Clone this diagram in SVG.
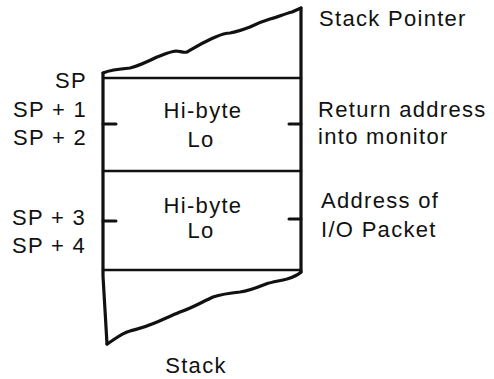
<svg xmlns="http://www.w3.org/2000/svg" width="494" height="379" viewBox="0 0 494 379">
  <style>
    .ln { fill: none; stroke: #111; stroke-linecap: round; stroke-linejoin: round; }
    .edge { stroke-width: 3.2; }
    .rule { stroke-width: 2.6; }
    .tick { stroke-width: 3; }
    .t { font-family: "Liberation Sans", Arial, Helvetica, sans-serif; font-size: 22px; fill: #111; letter-spacing: 1.3px; }
    .r { text-anchor: end; }
    .m { text-anchor: middle; }
  </style>
  <rect width="494" height="379" fill="#fff"/>

  <!-- stack column: torn top and bottom edges, two side walls -->
  <g id="stack-column">
    <path class="ln edge" d="M103,73 C110,70 118,69 130,68 C138,66 145,63 157,57 C163,55 168,52 176,51 C180,51 183,53 187,52 C194,48 200,44 213,38 C220,35 224,33 230,33 C236,32 242,30 250,27 C256,24 260,22 270,19 C278,17 284,14 292,12 L301,8"/>
    <path class="ln edge" d="M103,73 L103,276 L107,344"/>
    <path class="ln edge" d="M301,8 L301,272"/>
    <path class="ln edge" d="M107,344 C114,340 120,334 130,331 C137,329 143,328 152,324 C160,321 168,317 180,312 C192,308 202,302 213,297 C222,294 230,293 240,292 C248,291 256,288 266,284 C272,282 279,281 287,279 C294,277 298,275 301,272"/>
  </g>

  <!-- slot boundaries -->
  <g id="slot-rules">
    <line class="ln rule" x1="103" y1="78" x2="301" y2="78"/>
    <line class="ln rule" x1="103" y1="171" x2="301" y2="171"/>
    <line class="ln rule" x1="103" y1="270" x2="301" y2="270"/>
  </g>

  <!-- byte boundary ticks -->
  <g id="ticks">
    <line class="ln tick" x1="103" y1="124" x2="116" y2="124"/>
    <line class="ln tick" x1="289" y1="124" x2="301" y2="124"/>
    <line class="ln tick" x1="103" y1="221" x2="116" y2="221"/>
    <line class="ln tick" x1="289" y1="219" x2="301" y2="219"/>
  </g>

  <g id="slot-return">
    <text class="t m" x="203" y="118">Hi-byte</text>
    <text class="t m" x="201" y="147">Lo</text>
  </g>
  <g id="slot-packet">
    <text class="t m" x="203" y="213">Hi-byte</text>
    <text class="t m" x="201" y="238">Lo</text>
  </g>

  <!-- offsets from the stack pointer -->
  <g id="offsets">
    <text class="t r" x="87" y="88">SP</text>
    <text class="t r" x="87" y="117">SP + 1</text>
    <text class="t r" x="87" y="145">SP + 2</text>
    <text class="t r" x="86" y="225">SP + 3</text>
    <text class="t r" x="86" y="253">SP + 4</text>
  </g>

  <!-- descriptions -->
  <g id="notes">
    <text class="t" x="319" y="26">Stack Pointer</text>
    <text class="t" x="318" y="117">Return address</text>
    <text class="t" x="318" y="144">into monitor</text>
    <text class="t" x="321" y="208">Address of</text>
    <text class="t" x="321" y="237">I/O Packet</text>
    <text class="t m" x="196" y="373">Stack</text>
  </g>
</svg>
